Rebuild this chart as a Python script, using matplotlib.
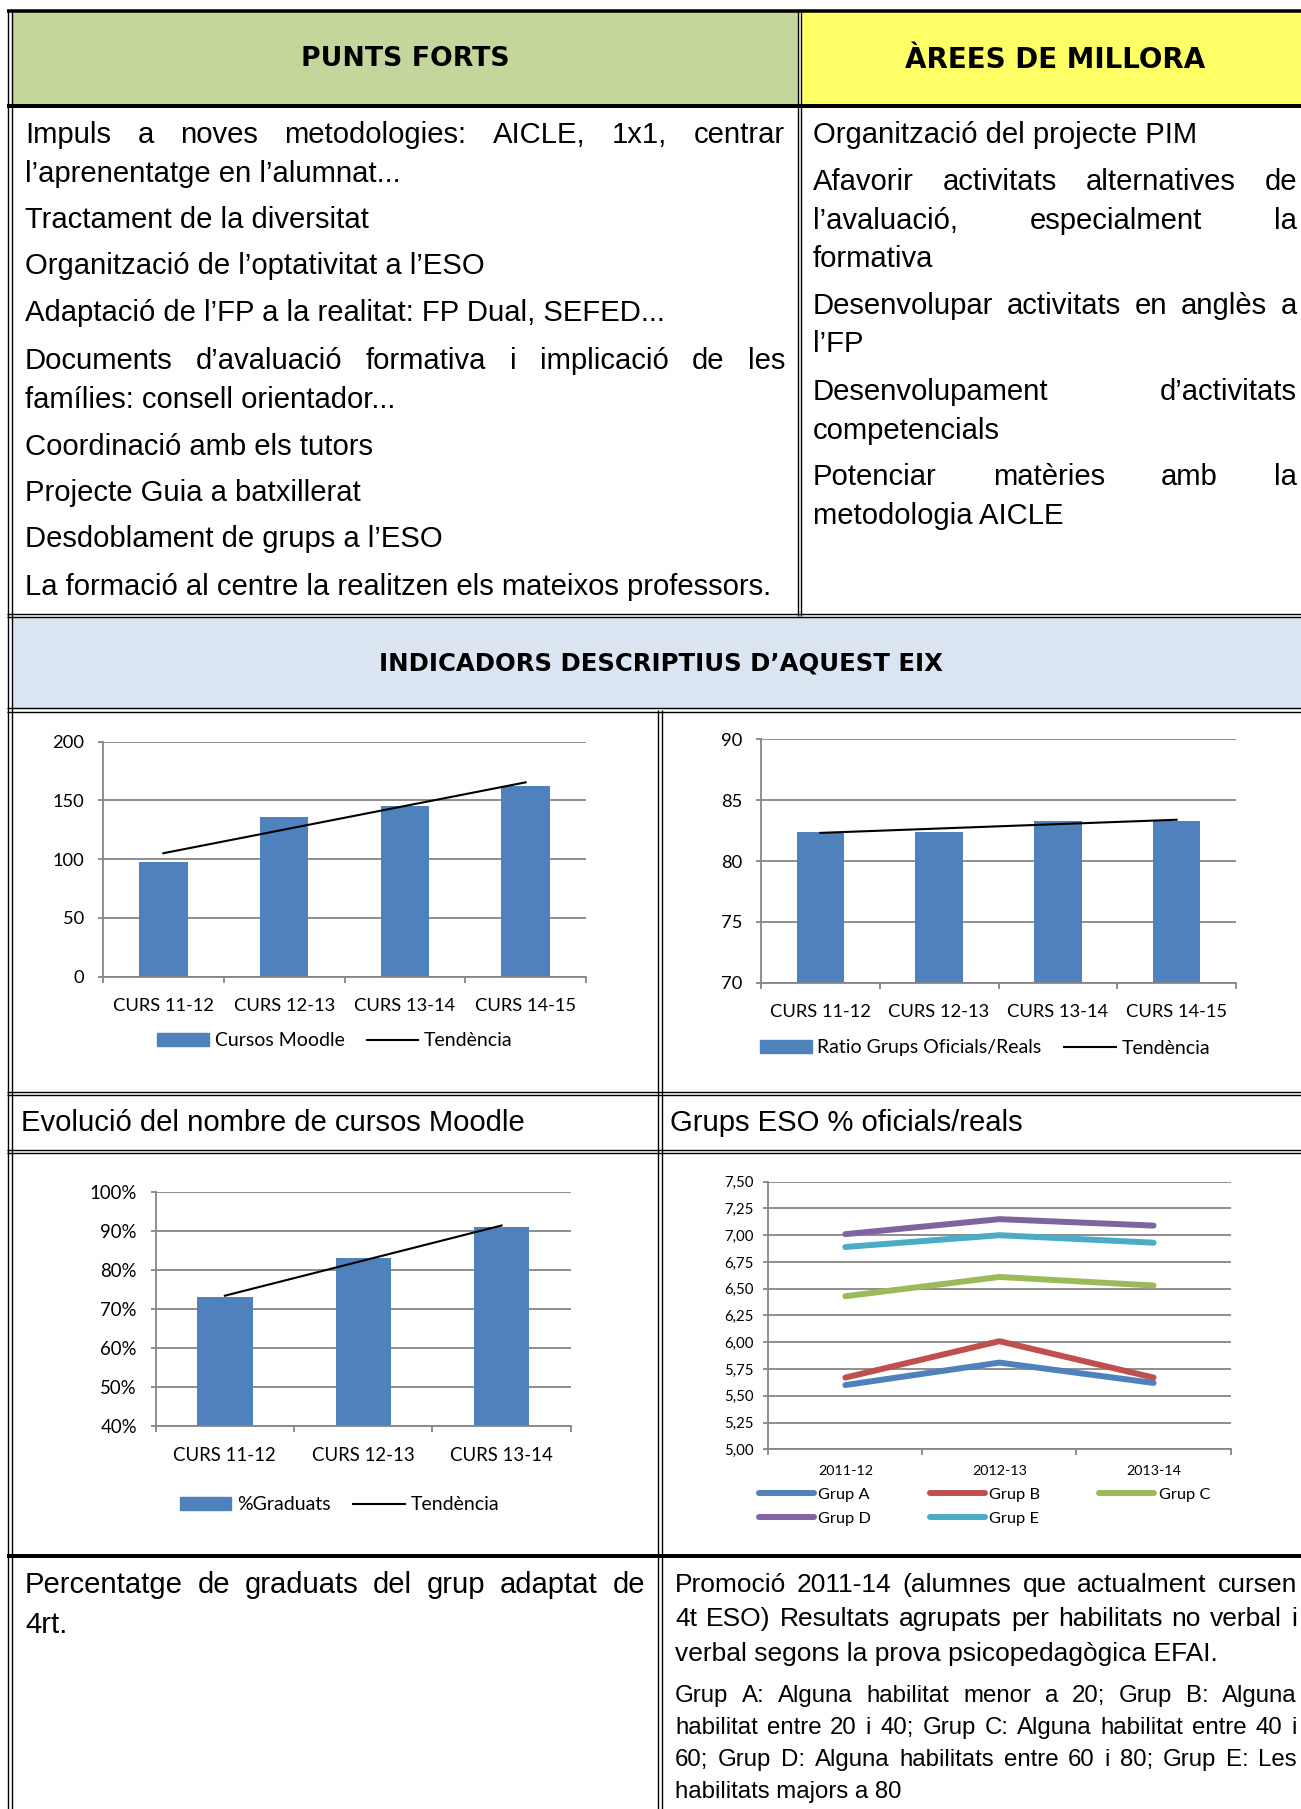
import numpy as np
import matplotlib
matplotlib.use('Agg')
import matplotlib.pyplot as plt
from matplotlib.patches import Rectangle, Patch
from matplotlib.lines import Line2D
from matplotlib.ticker import MultipleLocator, FuncFormatter

# ---- data ----
cursos = ['CURS 11-12', 'CURS 12-13', 'CURS 13-14', 'CURS 14-15']
cursos_moodle = [98, 136, 145, 162]
ratio_grups = [82.4, 82.4, 83.3, 83.3]
cursos_grad = ['CURS 11-12', 'CURS 12-13', 'CURS 13-14']
graduats = [0.73, 0.83, 0.91]
promocio = ['2011-12', '2012-13', '2013-14']
grup_a = [5.60, 5.81, 5.62]
grup_b = [5.67, 6.01, 5.67]
grup_c = [6.43, 6.61, 6.53]
grup_d = [7.01, 7.15, 7.09]
grup_e = [6.89, 7.00, 6.93]
grups = ['Grup A', 'Grup B', 'Grup C', 'Grup D', 'Grup E']

punts_forts = [
    'Impuls a noves metodologies: AICLE, 1x1, centrar',
    'l’aprenentatge en l’alumnat...',
    'Tractament de la diversitat',
    'Organització de l’optativitat a l’ESO',
    'Adaptació de l’FP a la realitat: FP Dual, SEFED...',
    'Documents d’avaluació formativa i implicació de les',
    'famílies: consell orientador...',
    'Coordinació amb els tutors',
    'Projecte Guia a batxillerat',
    'Desdoblament de grups a l’ESO',
    'La formació al centre la realitzen els mateixos professors.',
]
arees_millora = [
    'Organització del projecte PIM',
    'Afavorir activitats alternatives de',
    'l’avaluació, especialment la',
    'formativa',
    'Desenvolupar activitats en anglès a',
    'l’FP',
    'Desenvolupament d’activitats',
    'competencials',
    'Potenciar matèries amb la',
    'metodologia AICLE',
]
nota_grad = ['Percentatge de graduats del grup adaptat de', '4rt.']
nota_efai = [
    'Promoció 2011-14 (alumnes que actualment cursen',
    '4t ESO) Resultats agrupats per habilitats no verbal i',
    'verbal segons la prova psicopedagògica EFAI.',
]
nota_grups = [
    'Grup A: Alguna habilitat menor a 20; Grup B: Alguna',
    'habilitat entre 20 i 40; Grup C: Alguna habilitat entre 40 i',
    '60; Grup D: Alguna habilitats entre 60 i 80; Grup E: Les',
    'habilitats majors a 80',
]

BLUE = '#4F81BD'
GRID = '#868686'
LINE_COLORS = ['#4F81BD', '#C0504D', '#9BBB59', '#8064A2', '#4BACC6']
BODY = 'Liberation Sans'
CHART = ['Lato', 'DejaVu Sans']

W, H = 1301, 1809
PX = 0.72  # points per pixel at dpi 100

fig = plt.figure(figsize=(W / 100, H / 100), dpi=100)
bg = fig.add_axes([0, 0, 1, 1])
bg.set_xlim(0, W)
bg.set_ylim(H, 0)
bg.axis('off')
renderer = fig.canvas.get_renderer()


def hline(y, x0, x1, lw=1.4, double=True):
    offs = (-1.6, 1.6) if double else (0,)
    for d in offs:
        bg.plot([x0, x1], [y + d, y + d], color='black', lw=lw * PX,
                solid_capstyle='butt', zorder=3)


def vline(x, y0, y1, lw=1.4, double=True):
    offs = (-1.6, 1.6) if double else (0,)
    for d in offs:
        bg.plot([x + d, x + d], [y0, y1], color='black', lw=lw * PX,
                solid_capstyle='butt', zorder=3)


def put_line(text, x0, y, size, x1=None):
    # x1 given -> justify the words between x0 and x1
    if x1 is None:
        bg.text(x0, y, text, fontsize=size, family=BODY, va='center', ha='left')
        return
    words = text.split()
    arts = [bg.text(0, y, w, fontsize=size, family=BODY, va='center', ha='left')
            for w in words]
    widths = [a.get_window_extent(renderer).width for a in arts]
    gap = (x1 - x0 - sum(widths)) / (len(words) - 1)
    x = x0
    for a, w in zip(arts, widths):
        a.set_x(x)
        x += w + gap


# ---- table backgrounds ----
bg.add_patch(Rectangle((12, 12), 786, 92, color='#C3D69B', zorder=1))
bg.add_patch(Rectangle((801, 12), W - 801, 92, color='#FFFF66', zorder=1))
bg.add_patch(Rectangle((12, 617), W - 12, 91, color='#DBE5F1', zorder=1))

# ---- table borders ----
hline(11, 7, W, lw=3.5, double=False)
hline(105.5, 7, W, lw=4, double=False)
hline(615.5, 7, W)
hline(710, 7, W)
hline(1093.5, 7, W)
hline(1151.5, 7, W)
hline(1555.5, 7, W, lw=4, double=False)
vline(10, 9.5, H)
vline(799.5, 11, 615.5)
vline(660, 710, H)

# ---- headers ----
bg.text(405, 59.5, 'PUNTS FORTS', fontsize=19.3, fontweight='bold',
        family='DejaVu Sans', ha='center', va='center')
bg.text(1055, 59.5, 'ÀREES DE MILLORA', fontsize=20, fontweight='bold',
        family='DejaVu Sans', ha='center', va='center')
bg.text(661, 664, 'INDICADORS DESCRIPTIUS D’AQUEST EIX', fontsize=17.6,
        fontweight='bold', family='DejaVu Sans', ha='center', va='center')

# ---- text cells ----
DY = 2
left_y = [133, 172, 218, 264, 311, 359, 398, 445, 491, 537, 585]
left_just = [True, False, False, False, False, True, False, False, False, False, False]
for txt, y, j in zip(punts_forts, left_y, left_just):
    put_line(txt, 25, y + DY, 21.1, 785 if j else None)

right_y = [133, 180, 219, 257, 304, 342, 390, 429, 475, 514]
right_just = [False, True, True, False, True, False, True, False, True, False]
for txt, y, j in zip(arees_millora, right_y, right_just):
    put_line(txt, 813, y + DY, 21.1, 1297 if j else None)

put_line('Evolució del nombre de cursos Moodle', 21, 1121 + DY, 21.1)
put_line('Grups ESO % oficials/reals', 670, 1121 + DY, 21.1)

put_line(nota_grad[0], 25, 1583 + DY, 21.1, 645)
put_line(nota_grad[1], 25, 1623 + DY, 21.1)

for txt, y, j in zip(nota_efai, [1583, 1617, 1652], [True, True, False]):
    put_line(txt, 675, y + DY, 19, 1297 if j else None)
for txt, y, j in zip(nota_grups, [1694, 1726, 1758, 1790], [True, True, True, False]):
    put_line(txt, 675, y + DY, 17.3, 1297 if j else None)


# ---- charts ----
def chart_axes(l, t, r, b):
    return fig.add_axes([l / W, 1 - b / H, (r - l) / W, (b - t) / H])


def style(ax, labels, ylo, yhi, step, size, xpad, ypad):
    n = len(labels)
    ax.set_xlim(-0.5, n - 0.5)
    ax.set_ylim(ylo, yhi)
    ax.yaxis.set_major_locator(MultipleLocator(step))
    ax.grid(axis='y', color=GRID, lw=1.3)
    ax.set_axisbelow(True)
    ax.patch.set_alpha(0)
    for s in ['top', 'right']:
        ax.spines[s].set_visible(False)
    for s in ['left', 'bottom']:
        ax.spines[s].set_color(GRID)
        ax.spines[s].set_linewidth(1.3)
    ax.set_xticks(np.arange(n + 1) - 0.5)
    ax.set_xticklabels([])
    ax.set_xticks(np.arange(n), minor=True)
    ax.set_xticklabels(labels, minor=True, family=CHART, fontsize=size)
    ax.tick_params(axis='x', which='major', length=4.5, width=1.3, color=GRID)
    ax.tick_params(axis='x', which='minor', length=0, pad=xpad)
    ax.tick_params(axis='y', length=3.5, width=1.3, color=GRID, pad=ypad,
                   labelsize=size)
    for t in ax.get_yticklabels():
        t.set_family(CHART)


def bar_chart(ax, vals):
    x = np.arange(len(vals))
    ax.bar(x, vals, width=0.4, color=BLUE, zorder=2)
    coef = np.polyfit(x, vals, 1)
    ends = np.array([0, len(vals) - 1])
    ax.plot(ends, np.polyval(coef, ends), color='black', lw=1.5, zorder=3)


def bar_legend(label, cx, cy, size):
    fig.legend(handles=[Patch(color=BLUE), Line2D([], [], color='black', lw=1.5)],
               labels=[label, 'Tendència'], loc='center',
               bbox_to_anchor=(cx / W, 1 - cy / H), ncol=2, frameon=False,
               prop={'family': CHART, 'size': size}, handlelength=2.65,
               handleheight=0.6, handletextpad=0.3, columnspacing=1.15,
               borderpad=0)


# chart 1: Cursos Moodle
ax1 = chart_axes(103, 741.7, 586, 976.7)
bar_chart(ax1, cursos_moodle)
style(ax1, cursos, 0, 200, 50, 13.2, 15, 10)
bar_legend('Cursos Moodle', 335, 1041, 14)

# chart 2: ratio grups
ax2 = chart_axes(761, 739.3, 1236, 982.7)
bar_chart(ax2, ratio_grups)
style(ax2, cursos, 70, 90, 5, 13.2, 15, 10)
bar_legend('Ratio Grups Oficials/Reals', 985, 1048, 14)

# chart 3: % graduats
ax3 = chart_axes(155.7, 1191.7, 570.7, 1425.7)
bar_chart(ax3, graduats)
style(ax3, cursos_grad, 0.4, 1.0, 0.1, 13.4, 15, 10)
ax3.yaxis.set_major_formatter(FuncFormatter(lambda v, p: f'{v * 100:.0f}%'))
bar_legend('%Graduats', 339.5, 1505, 14)

# chart 4: grups EFAI
ax4 = chart_axes(768.3, 1181.7, 1230.6, 1449.3)
series = [grup_a, grup_b, grup_c, grup_d, grup_e]
handles = []
for vals, c in zip(series, LINE_COLORS):
    h, = ax4.plot(np.arange(len(vals)), vals, color=c, lw=4.3,
                  solid_capstyle='round', zorder=3)
    handles.append(h)
style(ax4, promocio, 5.0, 7.5, 0.25, 10.3, 11.5, 6.8)
for t in ax4.get_yticklabels():
    t.set_fontsize(10.8)
ax4.yaxis.set_major_formatter(FuncFormatter(lambda v, p: f'{v:.2f}'.replace('.', ',')))
order = [0, 3, 1, 4, 2]
fig.legend(handles=[handles[i] for i in order], labels=[grups[i] for i in order],
           loc='center', bbox_to_anchor=(984.5 / W, 1 - 1506.5 / H), ncol=3,
           frameon=False, prop={'family': CHART, 'size': 11.8}, handlelength=3.35,
           handletextpad=0.26, columnspacing=3.6, labelspacing=0.58, borderpad=0)

fig.savefig('out.png', dpi=100)
